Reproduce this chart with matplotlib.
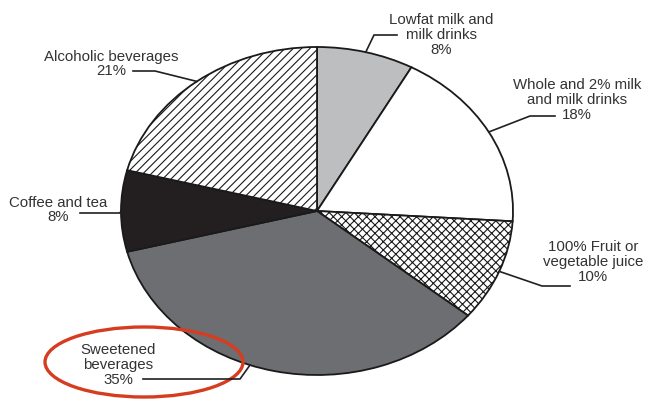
import numpy as np
import matplotlib
matplotlib.use('Agg')
import matplotlib.pyplot as plt
from matplotlib.patches import Ellipse

labels = ['Lowfat milk and\nmilk drinks\n8%',
          'Whole and 2% milk\nand milk drinks\n18%',
          '100% Fruit or\nvegetable juice\n10%',
          'Sweetened\nbeverages\n35%',
          'Coffee and tea\n8%',
          'Alcoholic beverages\n21%']
shares = [8, 18, 10, 35, 8, 21]
colors = ['#bdbec0', 'white', 'white', '#6d6e71', '#231f20', 'white']
hatches = ['', '', 'xxxx', '', '', '////']

# pie centre / radii in pixels (figure is 645x400)
CX, CY, RX, RY = 317, 211, 196, 164

def px(x, y):
    # pixel position -> data coords (pie radius 1)
    return (x - CX) / RX, (CY - y) / RY

# label layout: elbow, end of leader, text centre, angle nudge
layout = [
    ((374, 35), (397, 35), (441, 35), 0),
    ((530, 116), (555, 116), (577, 100), 0),
    ((542, 286), (570, 286), (593, 262), 0),
    ((240, 379), (143, 379), (118, 365), -7.4),
    ((120, 213), (80, 213), (58, 210), 0),
    ((155, 71), (133, 71), (111, 64), 0),
]

plt.rcParams['font.family'] = ['Liberation Sans', 'DejaVu Sans']
plt.rcParams['hatch.linewidth'] = 0.8

fig = plt.figure(figsize=(6.45, 4.0), dpi=100)
ax = fig.add_axes([0, 0, 1, 1])
wedges, _ = ax.pie(shares, colors=colors, startangle=90, counterclock=False,
                   wedgeprops=dict(edgecolor='#1a1a1a', linewidth=1.3))
for w, h in zip(wedges, hatches):
    w.set_hatch(h)

ax.set_aspect('auto')
ax.set_xlim(-CX / RX, (645 - CX) / RX)
ax.set_ylim(-(400 - CY) / RY, CY / RY)
ax.axis('off')

for w, lab, (elbow, end, tpos, nudge) in zip(wedges, labels, layout):
    mid = np.deg2rad((w.theta1 + w.theta2) / 2 + nudge)
    x0, y0 = np.cos(mid), np.sin(mid)
    x1, y1 = px(*elbow)
    x2, y2 = px(*end)
    ax.plot([x0, x1, x2], [y0, y1, y2], color='#231f20', lw=1.2,
            solid_joinstyle='miter', clip_on=False)
    tx, ty = px(*tpos)
    ax.text(tx, ty, lab, ha='center', va='center', fontsize=10.8,
            color='#333333', linespacing=1.05)

# red highlight around the sweetened label
ex, ey = px(144, 362)
ax.add_patch(Ellipse((ex, ey), 198 / RX, 70 / RY, fill=False,
                     edgecolor='#d63c1f', lw=2.4))

fig.savefig('out.png', dpi=100)
